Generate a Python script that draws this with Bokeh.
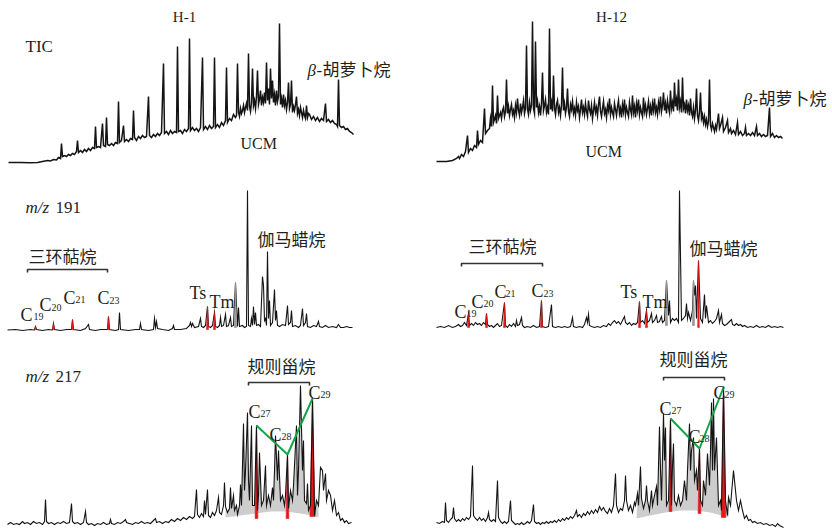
from bokeh.plotting import figure
from bokeh.models import Range1d, Label
from bokeh.layouts import gridplot
from bokeh.embed import file_html
from bokeh.resources import INLINE

# ---------------- data (scan index, relative abundance) ----------------
SAMPLES = ["H-1", "H-12"]

TIC_H1 = [(0,0),(12,0),(22,-0.3),(29,0),(34,1),(39,2),(42,1.5),(45,3),(48,2.5),(50,5),(52,4),(53,19),(54,6),(56,7),(58,6),(60,8),(62,7),(64,9),(66,8),(68,11),(69,22),(70,10),(72,12),(74,10),(76,13),(78,11),(80,14),(82,12),(84,15),(86,14),(87,36),(88,15),(90,16),(92,15),(94,39),(95,17),(97,16),(98,45),(99,18),(101,17),(103,19),(105,17),(107,20),(109,19),(110,61),(111,20),(113,22),(115,37),(116,21),(118,23),(120,21),(122,24),(124,23),(125,52),(126,25),(128,22),(130,26),(132,24),(134,27),(136,25),(138,26),(140,66),(141,27),(143,25),(145,28),(147,26),(149,29),(151,27),(153,30),(155,99),(156,29),(158,31),(160,28),(162,32),(164,29),(166,31),(168,30),(169,116),(170,31),(172,32),(174,29),(176,33),(178,31),(180,34),(181,124),(182,32),(184,35),(186,32),(188,34),(190,31),(192,35),(194,105),(195,33),(197,36),(199,33),(201,37),(203,34),(205,36),(206,105),(207,35),(209,38),(211,35),(213,40),(215,37),(217,42),(218,95),(219,40),(221,44),(223,42),(225,48),(227,45),
          (228,47),(229,99),(230,50),(231,46),(232,54),(233,49),(234,52),(235,57),(236,50),(237,55),(238,59),(239,52),(240,109),(241,56),(242,51),(243,60),(244,94),(245,57),(246,62),(247,54),(248,66),(249,92),(250,58),(251,63),(252,72),(253,57),(254,65),(255,60),(256,70),(257,59),(258,100),(259,62),(260,74),(261,58),(262,94),(263,64),(264,82),(265,60),(266,68),(267,57),(268,72),(269,61),(270,66),(271,139),(272,58),(273,64),(274,55),(275,68),(276,57),(277,62),(278,53),(279,60),(280,80),(281,54),(282,58),(283,82),(284,50),(285,56),(286,52),(287,58),(288,66),(289,49),(290,53),(291,47),(292,55),(293,50),(294,45),(295,52),(296,47),(297,44),(298,57),(299,45),(300,49),
          (301,48),(303,43),(305,46),(307,42),(309,45),(311,41),(313,44),(315,42),(317,59),(318,41),(320,43),(322,40),(324,42),(326,39),(328,38),(329,36),(330,83),(331,37),(333,35),(335,36),(337,33),(339,34),(341,31),(343,30),(345,28)]

TIC_H12 = [(20,1),(30,1),(36,2),(40,4),(42,6),(43,4),(45,8),(47,6),(49,11),(51,27),(52,10),(54,14),(56,12),(58,17),(60,15),(61,32),(62,18),(64,22),(66,20),(68,54),(69,29),(71,32),(73,34),(74,44),(75,36),(76,77),(77,40),(79,47),(80,39),(81,67),(82,44),
           (84,50),(85,44),(86,52),(87,55),(88,46),(89,51),(90,83),(91,49),(92,56),(93,47),(94,53),(95,58),(96,48),(97,52),(98,45),(99,57),(100,50),(101,64),(102,52),(103,47),(104,59),(105,50),(106,55),(107,62),(108,49),(109,54),(110,117),(111,53),(112,48),(113,60),(114,52),(115,57),(116,141),(117,54),(118,49),(119,121),(120,55),(121,61),(122,50),(123,56),(124,47),(125,59),(126,90),(127,52),(128,57),(129,63),(130,50),(131,55),(132,48),(133,134),(134,53),(135,60),(136,51),(137,87),(138,54),(139,48),(140,58),(141,62),(142,50),(143,55),(144,47),(145,57),(146,95),(147,52),(148,59),(149,49),(150,55),(151,74),(152,51),(153,46),(154,58),(155,53),(156,61),(157,49),(158,54),(159,47),(160,60),(161,52),(162,56),(163,45),(164,53),(165,63),(166,50),(167,55),(168,48),(169,59),(170,51),(171,46),(172,62),(173,53),(174,49),(175,57),(176,44),(177,52),(178,60),(179,50),(180,55),(181,47),(182,58),(183,66),(184,51),(185,46),(186,54),(187,61),(188,49),(189,53),(190,45),(191,57),(192,52),(193,64),(194,48),(195,55),(196,50),(197,46),(198,59),(199,53),(200,47),(201,56),(202,62),(203,49),(204,54),(205,45),(206,58),(207,51),(208,63),(209,48),(210,55),(211,50),(212,46),(213,60),(214,53),(215,48),(216,67),(217,50),(218,56),(219,45),(220,59),(221,52),(222,63),(223,48),(224,55),(225,50),(226,46),(227,65),(228,51),(229,57),(230,48),(231,54),(232,61),(233,49),(234,56),(235,47),(236,59),(237,52),(238,64),(239,50),(240,55),(241,48),(242,60),(243,53),(244,66),(245,51),(246,57),(247,70),(248,52),(249,59),(250,49),(251,62),(252,55),(253,50),(254,72),(255,54),(256,60),(257,51),(258,80),(259,56),(260,63),(261,52),(262,83),(263,55),(264,61),(265,50),(266,85),(267,54),(268,58),(269,49),(270,63),(271,52),(272,57),(273,47),(274,64),(275,50),(276,46),(277,55),(278,44),(279,52),(280,74),(281,47),(282,42),(283,51),(284,70),(285,44),(286,48),(287,40),(288,46),(289,38),(290,43),(291,36),(292,41),(293,83),(294,37),(295,33),(296,39),(297,35),(298,31),(299,37),(300,33),
           (302,49),(303,34),(304,37),(306,45),(307,31),(309,35),(311,42),(312,30),(314,34),(315,29),(317,32),(319,28),(321,40),(322,28),(324,31),(326,27),(328,29),(329,35),(330,27),(332,29),(334,27),(336,30),(338,27),(340,36),(341,27),(343,29),(345,26),(347,28),(349,26),(351,27),(353,55),(354,26),(356,29),(358,25),(360,27),(362,25),(364,26),(366,24)]

MZ191_H1 = [(-1,-0.5),(7,0),(14,-1),(22,0),(26,-0.5),(27,3),(28,0),(34,-1),(40,0),(44,-0.5),(45,6),(46,0),(52,-1),(58,0),(63,0),(64,10),(65,0),(72,-1),(77,1),(80,5),(81,0),(87,-1),(92,0),(99,0),(100,13),(101,0),(107,-1),(110,0),(111,17),(112,0),(120,-1),(127,0),(131,0),(132,6),(133,0),(140,-1),(145,0),(146,11),(147,2),(148,8),(149,1),(154,0),(160,-1),(164,1),(165,4),(166,0),(172,0),(178,1),(181,4),(182,7),(183,3),(184,6),(186,2),(190,3),(192,11),(193,3),(195,2),(197,4),(199,23),(200,3),(202,2),(204,4),(206,17),(207,3),(209,2),(211,4),(212,12),(213,3),(215,4),(217,15),(218,3),(220,4),(222,12),(223,3),(225,4),(227,47),(229,3),(230,22),(231,3),(234,4),(236,2),(238,3),(239,139),(240,4),(242,3),(243,11),(244,4),(245,23),(246,5),(247,17),(248,4),(250,5),(252,3),(254,53),(255,44),(256,9),(257,11),(258,4),(259,78),(260,11),(261,29),(262,4),(264,7),(266,40),(267,9),(268,19),(269,4),(271,3),(274,5),(277,4),(279,24),(280,5),(282,7),(283,19),(284,3),(287,4),(290,2),(292,4),(294,21),(295,4),(297,7),(298,16),(299,3),(302,2),(305,4),(308,3),(310,8),(311,3),(314,2),(317,4),(320,2),(324,3),(328,2),(330,5),(332,2),(335,2),(338,3),(341,2),(344,2)]

MZ191_H12 = [(20,0),(24,1),(28,0),(32,2),(36,0),(39,1),(42,3),(44,1),(46,2),(48,5),(50,2),(52,14),(53,2),(55,4),(57,2),(59,5),(61,3),(63,4),(65,2),(67,5),(69,3),(70,14),(71,3),(73,1),(75,2),(77,0),(79,2),(81,4),(83,1),(85,2),(88,25),(89,2),(91,0),(93,3),(95,1),(97,4),(99,1),(100,7),(101,2),(103,3),(105,10),(106,2),(108,0),(111,1),(114,0),(117,2),(120,0),(123,1),(125,27),(126,1),(129,0),(132,1),(135,23),(136,1),(139,0),(142,1),(145,0),(148,1),(151,0),(154,1),(156,10),(157,1),(160,0),(163,1),(166,0),(168,3),(170,10),(171,5),(172,13),(173,2),(175,1),(178,0),(181,1),(184,0),(187,2),(190,1),(192,4),(194,2),(196,5),(198,7),(200,4),(202,6),(204,3),(206,7),(208,11),(209,5),(211,3),(213,5),(215,2),(217,4),(219,3),(221,5),(223,26),(224,5),(226,7),(228,4),(230,17),(231,5),(233,7),(235,14),(236,5),(238,7),(240,12),(241,5),(243,6),(245,11),(246,5),(248,7),(250,47),(252,12),(253,27),(254,5),(256,9),(258,7),(260,9),(262,5),(263,137),(265,7),(267,9),(269,12),(270,24),(271,9),(272,15),(274,7),(276,17),(277,47),(278,32),(279,42),(280,9),(282,67),(284,9),(286,5),(288,33),(289,9),(290,22),(292,5),(294,7),(296,4),(298,6),(300,9),(302,17),(303,5),(305,13),(306,4),(308,2),(310,3),(312,5),(315,8),(316,3),(318,2),(320,4),(322,2),(324,3),(326,1),(328,2),(331,0),(334,1),(337,0),(340,2),(343,0),(346,1),(349,0),(352,2),(355,0),(358,1),(361,0),(364,1),(367,0)]

MZ217_H1 = [(-1,-1),(2,1),(5,-1),(8,0),(11,-1),(14,2),(16,0),(19,1),(22,-1),(25,2),(28,0),(31,1),(34,-1),(36,2),(37,24),(38,2),(40,0),(43,1),(46,-1),(49,1),(52,0),(55,2),(58,0),(61,1),(63,20),(64,2),(66,0),(69,1),(72,-1),(75,1),(77,12),(78,1),(80,-1),(83,0),(86,-2),(89,0),(92,-1),(95,1),(98,-1),(101,0),(102,4),(103,0),(106,-1),(109,1),(112,0),(115,2),(117,4),(118,1),(121,0),(124,-1),(127,1),(130,0),(133,2),(136,0),(139,1),(142,0),(145,3),(147,5),(148,1),(151,2),(154,0),(157,2),(160,1),(163,4),(166,2),(169,5),(172,3),(175,6),(178,4),(181,7),(184,5),(186,7),(188,34),(189,9),(191,6),(193,10),(195,7),(196,23),(197,9),(199,34),(200,8),(202,6),(204,11),(206,8),(208,13),(210,26),(211,11),(213,9),(215,18),(216,41),(217,17),(219,11),(221,15),(222,36),(223,15),(225,28),(226,13),(228,18),(229,9),(231,18),(232,39),(233,18),(235,100),(236,33),(237,53),(239,111),(240,43),(241,23),(243,98),(244,18),(246,18),(248,98),(249,13),(250,28),(251,71),(253,18),(255,23),(257,58),(258,18),(260,28),(262,18),(264,36),(265,23),(266,53),(267,88),(269,43),(270,73),(272,23),(274,28),(276,18),(277,28),(279,69),(280,15),(282,33),(284,23),(285,38),(288,98),(289,28),(290,53),(292,138),(294,53),(295,83),(296,23),(298,20),(299,40),(300,13),(302,18),(304,125),(306,8),(308,23),(310,18),(312,56),(314,53),(315,33),(317,50),(318,23),(320,33),(322,28),(324,13),(326,23),(328,8),(330,11),(332,3),(334,5),(336,1),(338,3),(340,0),(343,1)]

MZ217_H12 = [(20,1),(23,0),(26,2),(28,1),(29,21),(30,3),(32,1),(34,4),(36,6),(37,16),(38,5),(40,2),(42,4),(44,2),(46,5),(48,3),(50,6),(52,4),(54,7),(56,58),(57,8),(59,5),(61,3),(63,6),(65,3),(67,5),(69,2),(71,6),(72,11),(73,4),(75,2),(77,4),(79,2),(81,43),(82,6),(84,2),(86,0),(88,2),(90,0),(92,2),(94,23),(95,3),(97,1),(99,-1),(101,0),(103,-1),(105,1),(107,-1),(109,0),(111,2),(113,0),(115,3),(117,19),(118,2),(120,0),(122,1),(124,-1),(126,1),(128,0),(130,2),(132,0),(134,2),(136,1),(138,3),(140,1),(142,4),(144,2),(146,5),(148,3),(150,6),(152,4),(154,7),(156,5),(158,8),(160,13),(161,7),(163,9),(165,6),(167,10),(169,8),(171,12),(173,9),(175,13),(177,10),(179,14),(181,11),(183,17),(185,13),(187,16),(189,12),(191,10),(193,15),(195,11),(197,18),(199,50),(200,18),(202,11),(204,15),(206,13),(208,23),(209,48),(210,23),(212,13),(214,18),(216,11),(218,21),(219,18),(221,30),(222,18),(224,57),(225,25),(227,15),(229,23),(230,38),(231,23),(233,13),(235,33),(236,18),(238,28),(240,37),(241,18),(243,97),(244,53),(245,23),(247,110),(248,63),(249,96),(250,18),(252,23),(254,105),(255,18),(256,58),(257,80),(258,23),(260,18),(262,28),(264,18),(266,23),(268,43),(270,23),(271,53),(273,100),(274,53),(275,73),(277,86),(278,43),(280,53),(281,33),(283,75),(284,23),(286,18),(287,43),(289,28),(291,70),(293,38),(294,73),(295,121),(296,53),(297,125),(298,53),(300,86),(302,18),(304,23),(305,13),(307,136),(309,23),(311,8),(312,26),(314,18),(317,53),(318,43),(320,23),(322,13),(324,23),(326,13),(328,5),(330,8),(332,3),(334,4),(336,1),(338,2),(341,0),(344,1),(347,-1),(350,0),(353,-2),(356,-1),(359,-3),(361,0),(363,-2),(365,-3),(367,-4)]

# tricyclic terpanes C19, C20, C21, C23, then Ts, Tm (+ gammacerane for H-12), m/z 191
TRI_LABELS = ["19", "20", "21", "23"]
RED191_H1_X = [27, 45, 64, 100, 199, 206]
RED191_H1_Y = [3, 6, 10, 13, 23, 17]
RED191_H12_X = [52, 70, 88, 125, 223, 230, 282]
RED191_H12_Y = [14, 14, 25, 27, 26, 17, 67]
GRAY191_H1_X = [227]
GRAY191_H1_Y = [47]
GRAY191_H12_X = [250, 277]
GRAY191_H12_Y = [47, 47]

# regular steranes C27, C28, C29 (m/z 217): scan, apex, foot
STER_LABELS = ["27", "28", "29"]
STER_H1_X = [248, 279, 304]
STER_H1_TOP = [98, 69, 125]
STER_H1_FOOT = [5, 5, 7]
STER_H12_X = [254, 283, 307]
STER_H12_TOP = [105, 75, 136]
STER_H12_FOOT = [12, 10, 6]

# unresolved hump beneath the sterane cluster
HUMP_H1 = [(217,6),(232,8),(247,10),(262,12),(277,12),(292,10),(304,8),(310,6)]
HUMP_H12 = [(220,5),(234,8),(249,11),(264,13),(279,13),(294,11),(312,6)]

# ---------------- styling ----------------
BLACK = "#141414"
RED = "#e3191c"
GREEN = "#16a34a"
GRAYF = "#cdcdcd"
SERIF = "Liberation Serif"
CJK = "Noto Sans CJK SC"
TXT = "#231f20"
LAT_DY = 6   # baseline correction of label rendering (px)
CJK_DY = 8


def make_fig(w, h, xr, yr):
    p = figure(width=w, height=h, x_range=Range1d(*xr), y_range=Range1d(*yr),
               output_backend="svg", toolbar_location=None, x_axis_type=None,
               y_axis_type=None, min_border=0, min_border_left=0, min_border_right=0,
               min_border_top=0, min_border_bottom=0)
    p.grid.visible = False
    p.outline_line_color = None
    p.background_fill_color = "white"
    p.border_fill_color = "white"
    return p


def lab(p, x, y, text, size, font=SERIF, style="normal", align="left", color=TXT):
    dy = CJK_DY if font == CJK else LAT_DY
    p.add_layout(Label(x=x, y=y + dy, text=text, text_font=font, text_font_size=f"{size}px",
                       text_font_style=style, text_align=align, text_baseline="alphabetic",
                       text_color=color))


def trace(p, pts, width=1.1, color=BLACK):
    xs = [a for a, b in pts]
    ys = [b for a, b in pts]
    p.line(xs, ys, line_color=color, line_width=width, line_join="miter")


def red_peaks(p, xs, tops, feet, hw):
    p.patches([[x - hw, x, x + hw] for x in xs],
              [[f, t, f] for t, f in zip(tops, feet)],
              fill_color=RED, line_color=RED, line_width=0.6)


def gray_peaks(p, xs, tops):
    p.patches([[x - 1.0, x, x + 1.0] for x in xs], [[2, t, 2] for t in tops],
              fill_color="#9a9a9a", line_color="#9a9a9a", line_width=0.8)


def bracket(p, x0, x1, y, tick):
    p.line([x0, x0, x1, x1], [y - tick, y, y, y - tick], line_color="#333333", line_width=1.6)


def cname(p, x, y, sub, dx, dy, size=18, subsize=10):
    lab(p, x, y, "C", size)
    lab(p, x + dx, y - dy, sub, subsize)


def hump_patch(p, pts, hump):
    x0, x1 = hump[0][0], hump[-1][0]
    upper = [(a, b) for a, b in pts if x0 <= a <= x1]
    xs = [a for a, b in upper] + [a for a, b in reversed(hump)]
    ys = [b for a, b in upper] + [b for a, b in reversed(hump)]
    p.patch(xs, ys, fill_color=GRAYF, line_color=None)


L_X = (-8, 408)
R_X = (0, 416)

# ---------------- row 1: TIC ----------------
a = make_fig(416, 178, L_X, (-16, 162))
trace(a, TIC_H1, 1.5)
lab(a, 176, 140, SAMPLES[0], 15, align="center")
lab(a, 17, 110, "TIC", 17)
lab(a, 299, 86, "\u03b2", 17, style="italic")
lab(a, 308, 86, "-", 17)
lab(a, 314, 86, "胡萝卜烷", 17, font=CJK)
lab(a, 232, 13, "UCM", 16)

b = make_fig(416, 178, R_X, (-16, 162))
trace(b, TIC_H12, 1.5)
lab(b, 195, 140, SAMPLES[1], 15, align="center")
lab(b, 327, 57, "\u03b2", 17, style="italic")
lab(b, 336, 57, "-", 17)
lab(b, 342, 57, "胡萝卜烷", 17, font=CJK)
lab(b, 169, 5, "UCM", 16)

# ---------------- row 2: m/z 191 ----------------
c = make_fig(416, 162, L_X, (-11, 151))
trace(c, MZ191_H1, 1.1)
gray_peaks(c, GRAY191_H1_X, GRAY191_H1_Y)
red_peaks(c, RED191_H1_X, RED191_H1_Y, [0] * len(RED191_H1_X), 1.0)
lab(c, 17, 116, "m/z", 17, style="italic")
lab(c, 47, 116, "191", 17)
lab(c, 20, 66, "三环萜烷", 17, font=CJK)
bracket(c, 19, 99, 60, 3)
cname(c, 12, 9, TRI_LABELS[0], 13, 2)
cname(c, 31, 19, TRI_LABELS[1], 12, 3)
cname(c, 55, 26, TRI_LABELS[2], 12, 2)
cname(c, 89, 26, TRI_LABELS[3], 12, 3)
lab(c, 181, 31, "Ts", 18)
lab(c, 201, 22, "Tm", 18)
lab(c, 249, 83, "伽马蜡烷", 17, font=CJK)

d = make_fig(416, 162, R_X, (-13, 149))
trace(d, MZ191_H12, 1.1)
gray_peaks(d, GRAY191_H12_X, GRAY191_H12_Y)
red_peaks(d, RED191_H12_X[:6], RED191_H12_Y[:6], [0] * 6, 1.0)
red_peaks(d, RED191_H12_X[6:], RED191_H12_Y[6:], [0], 0.8)
lab(d, 52, 74, "三环萜烷", 17, font=CJK)
bracket(d, 45, 126, 64, 3)
cname(d, 38, 10, TRI_LABELS[0], 12, 2)
cname(d, 55, 20, TRI_LABELS[1], 12, 2)
cname(d, 78, 30, TRI_LABELS[2], 11, 2)
cname(d, 115, 31, TRI_LABELS[3], 12, 3)
lab(d, 204, 30, "Ts", 18)
lab(d, 226, 20, "Tm", 18)
lab(d, 273, 72, "伽马蜡烷", 17, font=CJK)

# ---------------- row 3: m/z 217 ----------------
e = make_fig(416, 190, L_X, (-7, 183))
hump_patch(e, MZ217_H1, HUMP_H1)
red_peaks(e, STER_H1_X[:2], STER_H1_TOP[:2], STER_H1_FOOT[:2], 1.4)
red_peaks(e, STER_H1_X[2:], STER_H1_TOP[2:], STER_H1_FOOT[2:], 2.6)
trace(e, MZ217_H1, 1.1)
e.line(STER_H1_X, STER_H1_TOP, line_color=GREEN, line_width=2)
lab(e, 17, 141, "m/z", 17, style="italic")
lab(e, 47, 141, "217", 17)
lab(e, 239, 150, "规则甾烷", 17, font=CJK)
bracket(e, 240, 301, 141, 3)
cname(e, 240, 106, STER_LABELS[0], 12, 2)
cname(e, 261, 83, STER_LABELS[1], 12, 2)
cname(e, 300, 125, STER_LABELS[2], 12, 2)

f = make_fig(416, 190, R_X, (-7, 183))
hump_patch(f, MZ217_H12, HUMP_H12)
red_peaks(f, STER_H12_X[:2], STER_H12_TOP[:2], STER_H12_FOOT[:2], 1.4)
red_peaks(f, STER_H12_X[2:], STER_H12_TOP[2:], STER_H12_FOOT[2:], 2.2)
trace(f, MZ217_H12, 1.1)
f.line(STER_H12_X, STER_H12_TOP, line_color=GREEN, line_width=2)
lab(f, 243, 157, "规则甾烷", 17, font=CJK)
bracket(f, 247, 308, 146, 3)
cname(f, 243, 109, STER_LABELS[0], 12, 2)
cname(f, 272, 81, STER_LABELS[1], 11, 2)
cname(f, 297, 125, STER_LABELS[2], 11, 2)

grid = gridplot([[a, b], [c, d], [e, f]], toolbar_location=None)

with open("out.html", "w") as fh:
    fh.write(file_html(grid, INLINE, title="chromatograms"))
